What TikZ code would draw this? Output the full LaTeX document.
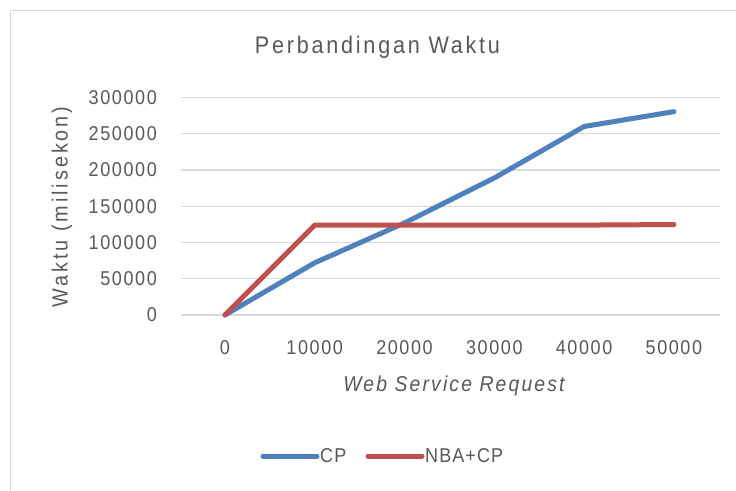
\documentclass[tikz,border=0pt]{standalone}
\usepackage{fontspec}
\setmainfont{Liberation Sans}
\newfontfamily\titlefont{Liberation Sans}[FakeStretch=0.9,LetterSpace=11.5]
\newfontfamily\tickfont{Liberation Sans}[FakeStretch=0.9,LetterSpace=8]
\newfontfamily\axisfont{Liberation Sans}[FakeStretch=0.9,LetterSpace=10]
\newfontfamily\vaxisfont{Liberation Sans}[FakeStretch=0.9,LetterSpace=13.5]
\newfontfamily\legendfont{Liberation Sans}[FakeStretch=0.9,LetterSpace=5.4]
\definecolor{txt}{HTML}{595959}
\definecolor{gridgray}{HTML}{D9D9D9}
\definecolor{cpblue}{HTML}{4F81BD}
\definecolor{nbared}{HTML}{C0504D}

\begin{document}
\begin{tikzpicture}[x=1pt,y=-1pt,
  gridline/.style={draw=gridgray,line width=1.3pt},
  series/.style={line width=5pt,line cap=round,line join=round},
  ticklabel/.style={text=txt,inner sep=0pt,font=\tickfont\fontsize{20}{21}\selectfont},
  axistitle/.style={text=txt,inner sep=0pt,font=\axisfont\fontsize{22}{23}\selectfont},
  charttitle/.style={text=txt,inner sep=0pt,font=\titlefont\fontsize{24}{25}\selectfont},
  legendtext/.style={text=txt,inner sep=0pt,font=\legendfont\fontsize{20}{21}\selectfont}]
% page and chart frame
\useasboundingbox (0,0) rectangle (736,490);
\fill[white] (0,0) rectangle (736,490);
\begin{scope}
  \clip (0,0) rectangle (736,490);
  \draw[draw=gridgray,line width=1.5pt] (10.5,10.5) rectangle (800,560);
\end{scope}

% title
\node[charttitle] (title) at (377.5,47) {Perbandingan Waktu};

% horizontal gridlines and value labels
\foreach \i/\t in {0/0,1/50000,2/100000,3/150000,4/200000,5/250000,6/300000}{
  \draw[gridline] (181,{315-\i*36.25}) -- (720,{315-\i*36.25});
  \node[ticklabel,anchor=east] (yl\i) at (157,{315-\i*36.25}) {\t};
}

% category labels
\foreach \i/\t in {0/0,1/10000,2/20000,3/30000,4/40000,5/50000}{
  \node[ticklabel] (xl\i) at ({224.9+\i*89.8},348) {\t};
}

% axis titles
\node[axistitle,font=\vaxisfont\fontsize{22}{23}\selectfont,rotate=90] (ytitle) at (62,207) {Waktu (milisekon)};
\node[axistitle,font=\axisfont\itshape\fontsize{21.5}{23}\selectfont] (xtitle) at (454,386) {Web Service Request};

% data points, y value in thousands of ms
\foreach \i/\v in {0/0,1/72,2/127,3/189,4/260,5/280.5}{
  \coordinate (cp\i) at ({224.9+\i*89.8},{315-\v/300*217.5});
}
\foreach \i/\v in {0/0,1/124,2/124,3/124,4/124,5/124.8}{
  \coordinate (nb\i) at ({224.9+\i*89.8},{315-\v/300*217.5});
}
\draw[series,cpblue] (cp0) -- (cp1) -- (cp2) -- (cp3) -- (cp4) -- (cp5);
\draw[series,nbared] (nb0) -- (nb1) -- (nb2) -- (nb3) -- (nb4) -- (nb5);

% legend
\coordinate (lga) at (263,456);
\coordinate (lgb) at (317,456);
\coordinate (lgc) at (368,456);
\coordinate (lgd) at (422,456);
\draw[series,cpblue] (lga) -- (lgb);
\node[legendtext,anchor=west] (lcp) at (320,456) {CP};
\draw[series,nbared] (lgc) -- (lgd);
\node[legendtext,anchor=west] (lnb) at (425,456) {NBA+CP};
\end{tikzpicture}
\end{document}
